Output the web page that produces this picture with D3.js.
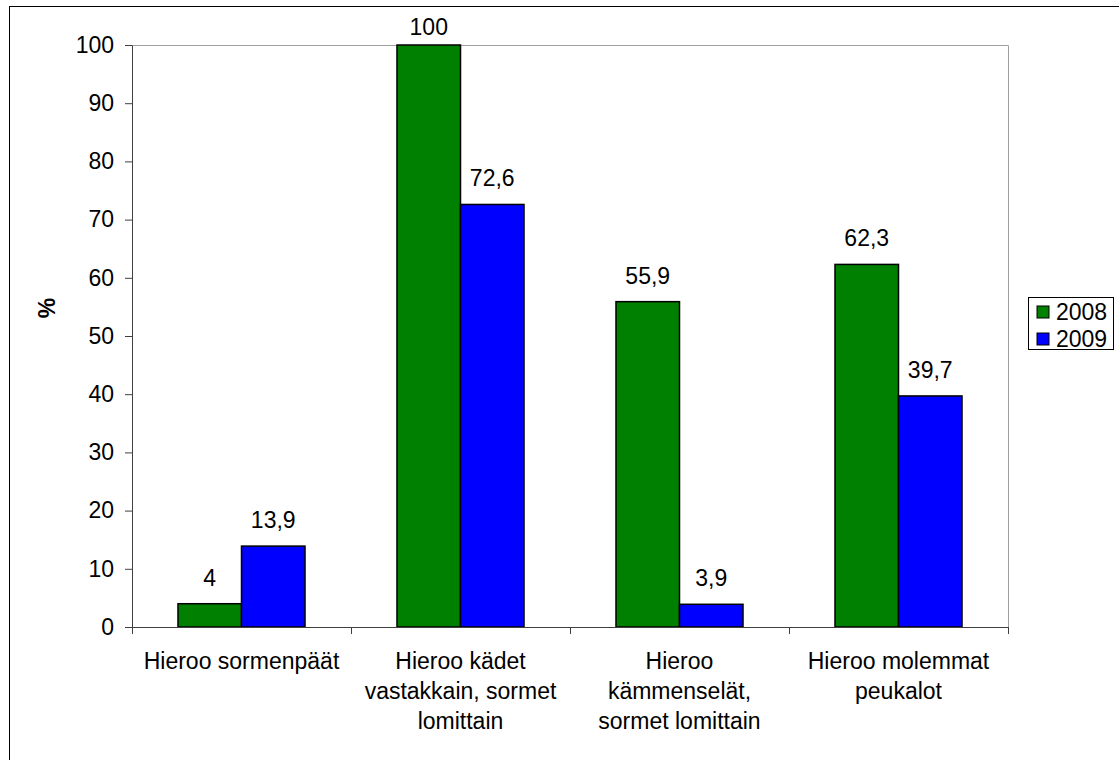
<!DOCTYPE html>
<meta charset="utf-8">
<style>
body { margin: 0; background: #fff; }
svg text { font-family: Arial, "Liberation Sans", sans-serif; fill: #000; }
.bar { stroke: #000; stroke-width: 1.5; }
</style>
<body>
<svg class="chart js-chart"></svg>

<script src="https://d3js.org/d3.v7.min.js"></script>
<script>
"use strict";

var categories = ["Hieroo sormenpäät", "Hieroo kädet vastakkain, sormet lomittain",
  "Hieroo kämmenselät, sormet lomittain", "Hieroo molemmat peukalot"];
var categoryLines = [
  ["Hieroo sormenpäät"],
  ["Hieroo kädet", "vastakkain, sormet", "lomittain"],
  ["Hieroo", "kämmenselät,", "sormet lomittain"],
  ["Hieroo molemmat", "peukalot"]
];
var years = ["2008", "2009"];
var values2008 = [4, 100, 55.9, 62.3];
var values2009 = [13.9, 72.6, 3.9, 39.7];
var yTicks = [0, 10, 20, 30, 40, 50, 60, 70, 80, 90, 100];
var colors = { "2008": "#008000", "2009": "#0000ff" };

var width = 1119, height = 760;
var plot = { left: 132, right: 1008, top: 45, bottom: 627 };
var fontSize = '23px';

var svg = d3.select('.js-chart')
  .attr('width', width)
  .attr('height', height);

// outer frame (only top/left visible in the original)
svg.append('rect')
  .attr('x', 9.5).attr('y', 6.5)
  .attr('width', width + 20).attr('height', height + 20)
  .attr('fill', 'none').attr('stroke', '#000').attr('stroke-width', 1);

var x = d3.scaleBand().domain(categories).range([plot.left, plot.right]);
var x1 = d3.scaleBand().domain(years)
  .range([x.bandwidth() * 0.21, x.bandwidth() * 0.79]);
var y = d3.scaleLinear().domain([0, 100]).range([plot.bottom, plot.top]);

// plot border top + right
svg.append('path')
  .attr('d', 'M' + plot.left + ',' + (plot.top + 0.5) + 'H' + (plot.right + 0.5) + 'V' + plot.bottom)
  .attr('fill', 'none').attr('stroke', '#a0a0a0').attr('stroke-width', 1);

var rows = categories.map(function (c, i) {
  return { cat: c, vals: [{ year: "2008", v: values2008[i] }, { year: "2009", v: values2009[i] }] };
});

var groups = svg.selectAll('.grp').data(rows).enter().append('g')
  .attr('class', 'grp')
  .attr('transform', function (d) { return 'translate(' + x(d.cat) + ',0)'; });

groups.selectAll('rect').data(function (d) { return d.vals; }).enter().append('rect')
  .attr('class', 'bar')
  .attr('x', function (d) { return x1(d.year); })
  .attr('width', x1.bandwidth())
  .attr('y', function (d) { return y(d.v); })
  .attr('height', function (d) { return y(0) - y(d.v); })
  .attr('fill', function (d) { return colors[d.year]; });

// labels sit 18px above the bar, but never above the frame top
groups.selectAll('.lbl').data(function (d) { return d.vals; }).enter().append('text')
  .attr('class', 'lbl')
  .attr('x', function (d) { return x1(d.year) + x1.bandwidth() / 2; })
  .attr('y', function (d) { return Math.max(y(d.v) - 18, 35); })
  .attr('text-anchor', 'middle')
  .style('font-size', fontSize)
  .text(function (d) { return String(d.v).replace('.', ','); });

// y axis
var yAxis = svg.append('g')
  .attr('transform', 'translate(' + plot.left + ',0)')
  .call(d3.axisLeft(y).tickValues(yTicks).tickSize(7).tickPadding(11).tickSizeOuter(0));
yAxis.selectAll('text').style('font-size', fontSize).style('font-family', 'Arial, "Liberation Sans", sans-serif');
yAxis.selectAll('line, path').attr('stroke', '#404040');

// x axis with ticks on group boundaries
var xb = d3.scaleLinear().domain([0, categories.length]).range([plot.left, plot.right]);
var xAxis = svg.append('g')
  .attr('transform', 'translate(0,' + plot.bottom + ')')
  .call(d3.axisBottom(xb).ticks(categories.length).tickSize(7).tickSizeOuter(0).tickFormat(''));
xAxis.selectAll('line, path').attr('stroke', '#404040');

// category labels
svg.selectAll('.cat').data(categories).enter().append('text')
  .attr('class', 'cat')
  .attr('x', function (d) { return x(d) + x.bandwidth() / 2; })
  .attr('y', 669)
  .attr('text-anchor', 'middle')
  .style('font-size', fontSize)
  .each(function (d, i) {
    var t = d3.select(this);
    categoryLines[i].forEach(function (line, k) {
      t.append('tspan')
        .attr('x', x(d) + x.bandwidth() / 2)
        .attr('dy', k === 0 ? 0 : 30)
        .text(line);
    });
  });

// y title
svg.append('text')
  .attr('transform', 'translate(55,308) rotate(-90)')
  .attr('text-anchor', 'middle')
  .style('font-size', fontSize)
  .style('font-weight', 'bold')
  .text('%');

// legend
var legend = svg.append('g').attr('transform', 'translate(1028,297)');
legend.append('rect')
  .attr('x', 0.5).attr('y', 0.5).attr('width', 85).attr('height', 52)
  .attr('fill', '#fff').attr('stroke', '#000');
var items = legend.selectAll('.item').data(years).enter().append('g')
  .attr('class', 'item')
  .attr('transform', function (d, i) { return 'translate(0,' + (i * 27) + ')'; });
items.append('rect')
  .attr('x', 9).attr('y', 9).attr('width', 12).attr('height', 12)
  .attr('fill', function (d) { return colors[d]; })
  .attr('stroke', '#000');
items.append('text')
  .attr('x', 28).attr('y', 23)
  .style('font-size', fontSize)
  .text(function (d) { return d; });
</script>
</body>
